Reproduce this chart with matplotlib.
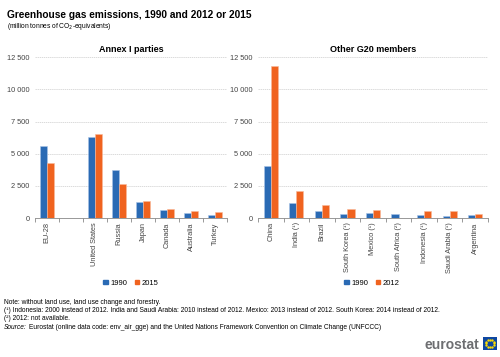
import numpy as np
import matplotlib.pyplot as plt
from matplotlib.ticker import FuncFormatter, MultipleLocator, FixedLocator

plt.rcParams['font.family'] = ['Liberation Sans', 'DejaVu Sans']

# data (million tonnes CO2-equivalents)
annex_countries = ['EU-28', '', 'United States', 'Russia', 'Japan', 'Canada', 'Australia', 'Turkey']
annex_1990 = [5600, np.nan, 6320, 3740, 1250, 610, 420, 215]
annex_2015 = [4290, np.nan, 6530, 2620, 1320, 720, 530, 470]

g20_countries = ['China', 'India (¹)', 'Brazil', 'South Korea (¹)', 'Mexico (¹)',
                 'South Africa (²)', 'Indonesia (¹)', 'Saudi Arabia (¹)', 'Argentina']
g20_1990 = [4020, 1200, 590, 290, 420, 340, 240, 160, 230]
g20_2012 = [11840, 2080, 1000, 690, 660, np.nan, 570, 520, 340]

BLUE = '#2a6ab4'
ORANGE = '#f0631f'
GREY = '#444444'


def thousands(v, pos):
    return f'{int(v):,}'.replace(',', ' ')


def draw_panel(ax, names, s1, s2, title, width):
    x = np.arange(len(names))
    ax.bar(x - width / 2, s1, width, color=BLUE, edgecolor='#a9c4e6', linewidth=0.4, zorder=3)
    ax.bar(x + width / 2, s2, width, color=ORANGE, edgecolor='#f7b99b', linewidth=0.4, zorder=3)
    ax.set_xlim(-0.5, len(names) - 0.5)
    ax.set_ylim(0, 12500)
    ax.yaxis.set_major_locator(MultipleLocator(2500))
    ax.yaxis.set_major_formatter(FuncFormatter(thousands))
    ax.grid(axis='y', color='#cccccc', linestyle=(0, (2, 1)), linewidth=0.5, zorder=0)
    for side in ['left', 'right', 'top']:
        ax.spines[side].set_visible(False)
    ax.spines['bottom'].set_color('#888888')
    ax.spines['bottom'].set_linewidth(0.6)
    ax.set_xticks(x)
    ax.set_xticklabels(names, rotation=90, fontsize=5.3, color=GREY)
    ax.xaxis.set_minor_locator(FixedLocator(np.arange(len(names) + 1) - 0.5))
    ax.tick_params(axis='x', which='major', length=0, pad=3)
    ax.tick_params(axis='x', which='minor', length=3, width=0.6, color='#888888')
    ax.tick_params(axis='y', length=0, labelsize=5.3, labelcolor=GREY, pad=4)
    ax.set_title(title, fontsize=6.5, fontweight='bold', pad=4)


fig = plt.figure(figsize=(5, 3.57), dpi=100)
ax1 = fig.add_axes([0.07, 0.389, 0.384, 0.451])
ax2 = fig.add_axes([0.516, 0.389, 0.46, 0.451])

draw_panel(ax1, annex_countries, annex_1990, annex_2015, 'Annex I parties', 0.3)
draw_panel(ax2, g20_countries, g20_1990, g20_2012, 'Other G20 members', 0.28)

for ax, lab, cx in [(ax1, '2015', 131 / 500), (ax2, '2012', 372 / 500)]:
    h = [plt.Rectangle((0, 0), 1, 1, color=BLUE), plt.Rectangle((0, 0), 1, 1, color=ORANGE)]
    fig.legend(h, ['1990', lab], loc='center', bbox_to_anchor=(cx, 0.207), ncol=2,
               frameon=False, fontsize=5.5, handlelength=0.6, handleheight=0.6,
               handletextpad=0.3, columnspacing=1.0)

fig.text(0.014, 0.972, 'Greenhouse gas emissions, 1990 and 2012 or 2015',
         fontsize=7.3, fontweight='bold', va='top')
fig.text(0.014, 0.94, '(million tonnes of CO$_2$-equivalents)', fontsize=4.8, va='top')

notes = ['Note: without land use, land use change and forestry.',
         '(¹) Indonesia: 2000 instead of 2012. India and Saudi Arabia: 2010 instead of 2012. '
         'Mexico: 2013 instead of 2012. South Korea: 2014 instead of 2012.',
         '(²) 2012: not available.']
for i, n in enumerate(notes):
    fig.text(0.008, 1 - (302 + 8.4 * i) / 357, n, fontsize=4.8, va='center')
src_y = 1 - (302 + 8.4 * 3) / 357
src = fig.text(0.008, src_y, 'Source:', fontsize=4.8, va='center', style='italic')
fig.canvas.draw()
bb = src.get_window_extent().transformed(fig.transFigure.inverted())
fig.text(bb.x1 + 0.005, src_y,
         'Eurostat (online data code: env_air_gge) and the United Nations '
         'Framework Convention on Climate Change (UNFCCC)',
         fontsize=4.8, va='center')

# eurostat logo
fig.text(0.958, 0.035, 'eurostat', fontsize=10, fontweight='bold', color='#6d6e71',
         ha='right', va='center')
flag = fig.add_axes([0.966, 0.02, 0.028, 0.036])
flag.set_facecolor('#0e47a1')
ang = np.linspace(0, 2 * np.pi, 12, endpoint=False)
flag.scatter(0.5 + 0.3 * np.cos(ang), 0.5 + 0.3 * np.sin(ang), s=0.5, color='#ffdd00')
flag.set_xlim(0, 1)
flag.set_ylim(0, 1)
flag.set_xticks([])
flag.set_yticks([])
for s in flag.spines.values():
    s.set_visible(False)

fig.savefig('out.png', dpi=100)
